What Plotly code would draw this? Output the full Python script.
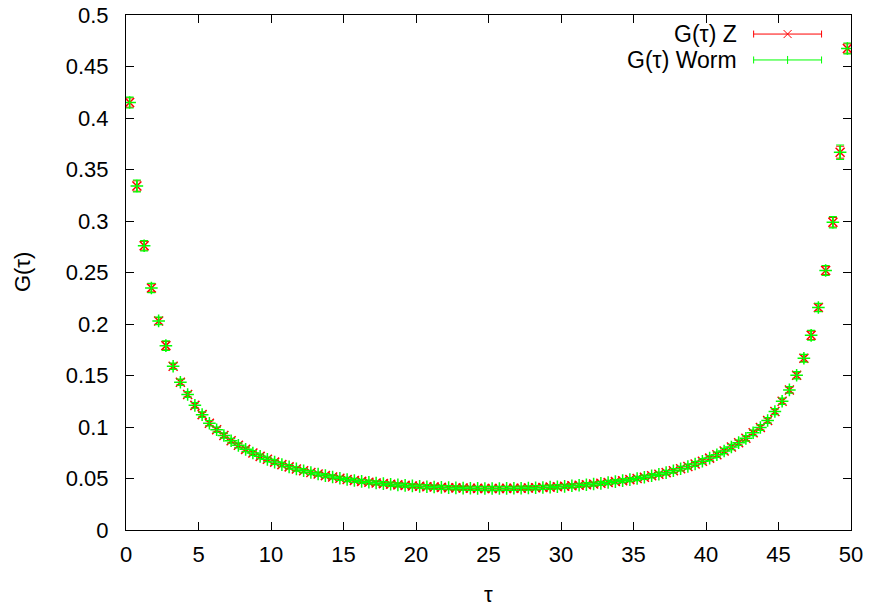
import plotly.graph_objects as go

# imaginary-time grid (100 bins of width 0.5 on [0, 50])
tau = [0.25 + 0.5 * i for i in range(100)]

g_z = [
    0.415, 0.334, 0.276, 0.235, 0.203, 0.179, 0.159, 0.1435, 0.1316, 0.121,
    0.112, 0.1037, 0.0973, 0.0917, 0.0866, 0.0822, 0.0783, 0.0747, 0.0715, 0.0686,
    0.0659, 0.0635, 0.0613, 0.0593, 0.0575, 0.0558, 0.0543, 0.0528, 0.0515, 0.0502,
    0.0490, 0.0481, 0.0472, 0.0464, 0.0457, 0.0450, 0.0444, 0.0438, 0.0433, 0.0428,
    0.0424, 0.0420, 0.0417, 0.0414, 0.0411, 0.0409, 0.0407, 0.0405, 0.0404, 0.0403,
    0.0403, 0.0403, 0.0404, 0.0405, 0.0406, 0.0408, 0.0410, 0.0413, 0.0416, 0.0420,
    0.0424, 0.0429, 0.0434, 0.0440, 0.0446, 0.0453, 0.0461, 0.0470, 0.0479, 0.0489,
    0.0500, 0.0512, 0.0526, 0.0541, 0.0557, 0.0575, 0.0595, 0.0617, 0.0641, 0.0668,
    0.0698, 0.0731, 0.0767, 0.0806, 0.0848, 0.0890, 0.0944, 0.0995, 0.1063, 0.1150,
    0.1250, 0.1360, 0.1503, 0.1668, 0.1890, 0.2160, 0.2520, 0.2988, 0.3668, 0.4675,
]

g_worm = [
    0.415, 0.334, 0.276, 0.235, 0.203, 0.179, 0.159, 0.1435, 0.1316, 0.121,
    0.112, 0.1037, 0.0973, 0.0917, 0.0866, 0.0822, 0.0783, 0.0747, 0.0715, 0.0686,
    0.0659, 0.0635, 0.0613, 0.0593, 0.0575, 0.0558, 0.0543, 0.0528, 0.0515, 0.0502,
    0.0490, 0.0481, 0.0472, 0.0464, 0.0457, 0.0450, 0.0444, 0.0438, 0.0433, 0.0428,
    0.0424, 0.0420, 0.0417, 0.0414, 0.0411, 0.0409, 0.0407, 0.0405, 0.0404, 0.0403,
    0.0403, 0.0403, 0.0404, 0.0405, 0.0406, 0.0408, 0.0410, 0.0413, 0.0416, 0.0420,
    0.0424, 0.0429, 0.0434, 0.0440, 0.0446, 0.0453, 0.0461, 0.0470, 0.0479, 0.0489,
    0.0500, 0.0512, 0.0526, 0.0541, 0.0557, 0.0575, 0.0595, 0.0617, 0.0641, 0.0668,
    0.0698, 0.0731, 0.0767, 0.0806, 0.0848, 0.0890, 0.0944, 0.0995, 0.1063, 0.1150,
    0.1250, 0.1360, 0.1503, 0.1668, 0.1890, 0.2160, 0.2520, 0.2988, 0.3668, 0.4675,
]

err_z = [
    0.0045, 0.0050, 0.0042, 0.0038, 0.0032, 0.0040, 0.0026, 0.0026, 0.0024, 0.0024,
    0.0022, 0.0022, 0.0021, 0.0021, 0.0020, 0.0020, 0.0019, 0.0019, 0.0018, 0.0018,
    0.0018, 0.0017, 0.0017, 0.0017, 0.0016, 0.0016, 0.0016, 0.0016, 0.0016, 0.0016,
    0.0016, 0.0016, 0.0016, 0.0016, 0.0016, 0.0016, 0.0016, 0.0016, 0.0016, 0.0016,
    0.0016, 0.0016, 0.0016, 0.0016, 0.0016, 0.0016, 0.0016, 0.0016, 0.0016, 0.0016,
    0.0016, 0.0016, 0.0016, 0.0016, 0.0016, 0.0016, 0.0016, 0.0016, 0.0016, 0.0016,
    0.0016, 0.0016, 0.0016, 0.0016, 0.0016, 0.0016, 0.0016, 0.0016, 0.0016, 0.0016,
    0.0017, 0.0017, 0.0017, 0.0017, 0.0018, 0.0018, 0.0018, 0.0019, 0.0019, 0.0020,
    0.0020, 0.0021, 0.0021, 0.0022, 0.0022, 0.0023, 0.0023, 0.0024, 0.0024, 0.0025,
    0.0026, 0.0027, 0.0029, 0.0032, 0.0040, 0.0034, 0.0040, 0.0046, 0.0058, 0.0045,
]

err_worm = [
    0.0053, 0.0058, 0.0050, 0.0045, 0.0037, 0.0047, 0.0030, 0.0030, 0.0028, 0.0028,
    0.0026, 0.0026, 0.0025, 0.0025, 0.0024, 0.0024, 0.0023, 0.0023, 0.0022, 0.0022,
    0.0022, 0.0021, 0.0021, 0.0021, 0.0020, 0.0020, 0.0020, 0.0020, 0.0020, 0.0020,
    0.0020, 0.0020, 0.0020, 0.0020, 0.0020, 0.0020, 0.0020, 0.0020, 0.0020, 0.0020,
    0.0020, 0.0020, 0.0020, 0.0020, 0.0020, 0.0020, 0.0020, 0.0020, 0.0020, 0.0020,
    0.0020, 0.0020, 0.0020, 0.0020, 0.0020, 0.0020, 0.0020, 0.0020, 0.0020, 0.0020,
    0.0020, 0.0020, 0.0020, 0.0020, 0.0020, 0.0020, 0.0020, 0.0020, 0.0020, 0.0020,
    0.0021, 0.0021, 0.0021, 0.0021, 0.0022, 0.0022, 0.0022, 0.0023, 0.0023, 0.0024,
    0.0024, 0.0025, 0.0025, 0.0026, 0.0026, 0.0027, 0.0027, 0.0028, 0.0028, 0.0029,
    0.0030, 0.0032, 0.0035, 0.0038, 0.0048, 0.0040, 0.0048, 0.0055, 0.0070, 0.0053,
]

series_names = ["G(τ) Z", "G(τ) Worm"]
x_ticks = [0, 5, 10, 15, 20, 25, 30, 35, 40, 45, 50]
y_ticks = [0, 0.05, 0.1, 0.15, 0.2, 0.25, 0.3, 0.35, 0.4, 0.45, 0.5]
y_tick_labels = ["0", "0.05", "0.1", "0.15", "0.2", "0.25", "0.3", "0.35", "0.4", "0.45", "0.5"]

RED = "#ff0000"
GREEN = "#00ff00"
FONT = "Liberation Sans, Arial, sans-serif"

fig = go.Figure()
fig.add_trace(go.Scatter(
    x=tau, y=g_z, mode="markers", name=series_names[0], showlegend=False,
    marker=dict(symbol="x-thin", size=9, color=RED, line=dict(color=RED, width=1.5)),
    error_y=dict(type="data", array=err_z, color=RED, thickness=1, width=4),
))
fig.add_trace(go.Scatter(
    x=tau, y=g_worm, mode="markers", name=series_names[1], showlegend=False,
    marker=dict(symbol="cross-thin", size=9, color=GREEN, line=dict(color=GREEN, width=1.5)),
    error_y=dict(type="data", array=err_worm, color=GREEN, thickness=1.2, width=4),
))

axis_common = dict(
    showgrid=False, zeroline=False, showline=True, linecolor="black", linewidth=1,
    mirror="ticks", ticks="inside", ticklen=8, tickwidth=1, tickcolor="black",
    tickfont=dict(family=FONT, size=22, color="black"), automargin=False,
)
fig.update_xaxes(range=[0, 50], tickvals=x_ticks, ticklabelstandoff=5, **axis_common)
fig.update_yaxes(range=[0, 0.5], tickvals=y_ticks, ticktext=y_tick_labels,
                 ticklabelstandoff=12, **axis_common)

# legend drawn gnuplot-style (text right-aligned, sample to its right)
shapes = []
annotations = []
legend_rows = [(series_names[0], RED, 0.963, "x"), (series_names[1], GREEN, 0.9127, "+")]
x_text = 0.845
x_l, x_r = 0.8657, 0.9594
x_c = (x_l + x_r) / 2
for name, col, yp, glyph in legend_rows:
    annotations.append(dict(text=name, x=x_text, y=yp, xref="paper", yref="paper",
                            xanchor="right", yanchor="middle", showarrow=False,
                            font=dict(family=FONT, size=23, color="black")))
    shapes.append(dict(type="line", xref="paper", yref="paper", x0=x_l, x1=x_r, y0=yp, y1=yp,
                       line=dict(color=col, width=1)))
    for xe in (x_l, x_r):
        shapes.append(dict(type="line", xref="paper", yref="paper", xsizemode="pixel",
                           ysizemode="pixel", xanchor=xe, yanchor=yp, x0=0, x1=0, y0=-3.5, y1=3.5,
                           line=dict(color=col, width=1)))
    if glyph == "x":
        for s in (1, -1):
            shapes.append(dict(type="line", xref="paper", yref="paper", xsizemode="pixel",
                               ysizemode="pixel", xanchor=x_c, yanchor=yp,
                               x0=-4, x1=4, y0=-4 * s, y1=4 * s, line=dict(color=col, width=1)))
    else:
        shapes.append(dict(type="line", xref="paper", yref="paper", xsizemode="pixel",
                           ysizemode="pixel", xanchor=x_c, yanchor=yp, x0=0, x1=0, y0=-4, y1=4,
                           line=dict(color=col, width=1)))

annotations.append(dict(text="G(τ)", x=-0.1426, y=0.5, xref="paper", yref="paper",
                        textangle=-90, showarrow=False, xanchor="center", yanchor="middle",
                        font=dict(family=FONT, size=22, color="black")))
annotations.append(dict(text="τ", x=0.5, y=-0.125, xref="paper", yref="paper",
                        showarrow=False, xanchor="center", yanchor="middle",
                        font=dict(family=FONT, size=22, color="black")))

fig.update_layout(
    width=872, height=610,
    margin=dict(l=125.5, r=20.5, t=15, b=79.5),
    plot_bgcolor="white", paper_bgcolor="white",
    shapes=shapes, annotations=annotations,
)

fig.write_html("out.html")
